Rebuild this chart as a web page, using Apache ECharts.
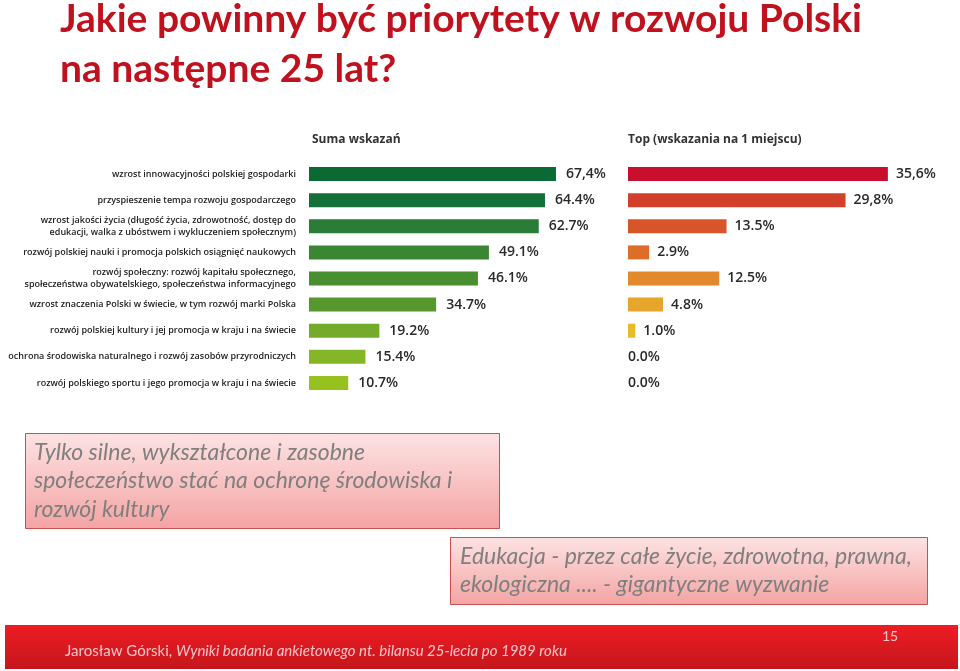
<!DOCTYPE html>
<html><head><meta charset="utf-8">
<script src="https://cdn.jsdelivr.net/npm/echarts@6/dist/echarts.min.js"></script>
<style>html,body{margin:0;padding:0;background:#fff;}#c{width:960px;height:671px;}</style>
</head><body><div id="c"></div>
<script>
var categories = [
  "wzrost innowacyjności polskiej gospodarki",
  "przyspieszenie tempa rozwoju gospodarczego",
  "wzrost jakości życia (długość życia, zdrowotność, dostęp do\nedukacji, walka z ubóstwem i wykluczeniem społecznym)",
  "rozwój polskiej nauki i promocja polskich osiągnięć naukowych",
  "rozwój społeczny: rozwój kapitału społecznego,\nspołeczeństwa obywatelskiego, społeczeństwa informacyjnego",
  "wzrost znaczenia Polski w świecie, w tym rozwój marki Polska",
  "rozwój polskiej kultury i jej promocja w kraju i na świecie",
  "ochrona środowiska naturalnego i rozwój zasobów przyrodniczych",
  "rozwój polskiego sportu i jego promocja w kraju i na świecie"
];
var sumaValues = [67.4, 64.4, 62.7, 49.1, 46.1, 34.7, 19.2, 15.4, 10.7];
var sumaLabels = ["67,4%", "64.4%", "62.7%", "49.1%", "46.1%", "34.7%", "19.2%", "15.4%", "10.7%"];
var topValues = [35.6, 29.8, 13.5, 2.9, 12.5, 4.8, 1.0, 0.0, 0.0];
var topLabels = ["35,6%", "29,8%", "13.5%", "2.9%", "12.5%", "4.8%", "1.0%", "0.0%", "0.0%"];
var greenColors = ["#0b6a34", "#137039", "#2a7c36", "#3a8733", "#478f31", "#57982e", "#74ab2a", "#84b627", "#97c11f"];
var redColors = ["#c8102e", "#d0402b", "#d8552a", "#dc6e2a", "#e28a2b", "#e6a52b", "#e8bb2a", "#e8bb2a", "#e8bb2a"];

var chart = echarts.init(document.getElementById('c'), null, {renderer: 'canvas'});
var labelFont = {fontFamily: 'Open Sans', fontWeight: 600, fontSize: 14, color: '#2a2a2a'};

var greenData = sumaValues.map(function (v, i) {
  return {value: v, itemStyle: {color: greenColors[i]},
    label: {show: true, position: 'right', distance: 10, formatter: sumaLabels[i]}};
});
var redData = topValues.map(function (v, i) {
  return {value: v, itemStyle: {color: redColors[i]},
    label: {show: true, position: 'right', distance: v === 0 ? 0 : 8, formatter: topLabels[i]}};
});

chart.setOption({
  animation: false,
  title: {
    text: 'Jakie powinny być priorytety w rozwoju Polski\nna następne 25 lat?',
    left: 60, top: -6, padding: 0,
    textStyle: {fontFamily: 'Lato', fontWeight: 'bold', fontSize: 39, color: '#c0121e', lineHeight: 50}
  },
  grid: [
    {left: 309, top: 161, width: 256.5, height: 235},
    {left: 628, top: 161, width: 292, height: 235}
  ],
  xAxis: [
    {gridIndex: 0, type: 'value', min: 0, max: 70, show: false},
    {gridIndex: 1, type: 'value', min: 0, max: 40, show: false}
  ],
  yAxis: [
    {gridIndex: 0, type: 'category', data: categories, inverse: true,
      axisLine: {show: false}, axisTick: {show: false},
      axisLabel: {margin: 13, fontFamily: 'Open Sans', fontSize: 9, fontWeight: 600, color: '#222', lineHeight: 12, align: 'right'}},
    {gridIndex: 1, type: 'category', data: categories, inverse: true, show: false}
  ],
  series: [
    {type: 'bar', xAxisIndex: 0, yAxisIndex: 0, data: greenData, barWidth: 14, label: labelFont},
    {type: 'bar', xAxisIndex: 1, yAxisIndex: 1, data: redData, barWidth: 14, label: labelFont}
  ],
  graphic: [
    {type: 'text', left: 312, top: 134, style: {text: 'Suma wskazań', font: 'bold 12px "Open Sans"', fill: '#333'}},
    {type: 'text', left: 628, top: 134, style: {text: 'Top (wskazania na 1 miejscu)', font: 'bold 12px "Open Sans"', fill: '#333'}},
    {type: 'rect', shape: {x: 25.5, y: 433.5, width: 474, height: 95},
      style: {fill: new echarts.graphic.LinearGradient(0, 0, 0, 1, [{offset: 0, color: '#fde3e3'}, {offset: 1, color: '#f4a3a3'}]), stroke: '#c9504d', lineWidth: 1}},
    {type: 'text', left: 34, top: 438, style: {text: 'Tylko silne, wykształcone i zasobne\nspołeczeństwo stać na ochronę środowiska i\nrozwój kultury', font: 'italic 23px Lato', fill: '#7f7f7f', lineHeight: 28.5}},
    {type: 'rect', shape: {x: 450.5, y: 537.5, width: 477, height: 67},
      style: {fill: new echarts.graphic.LinearGradient(0, 0, 0, 1, [{offset: 0, color: '#fde3e3'}, {offset: 1, color: '#f4a3a3'}]), stroke: '#c9504d', lineWidth: 1}},
    {type: 'text', left: 460, top: 543, style: {text: 'Edukacja - przez całe życie, zdrowotna, prawna,\nekologiczna .... - gigantyczne wyzwanie', font: 'italic 23px Lato', fill: '#7f7f7f', lineHeight: 28}},
    {type: 'rect', shape: {x: 5, y: 625, width: 953, height: 44},
      style: {fill: new echarts.graphic.LinearGradient(0, 0, 0, 1, [{offset: 0, color: '#ee1c24'}, {offset: 1, color: '#c4161c'}])}},
    {type: 'text', left: 65, top: 644, style: {rich: {a: {font: '15px Lato', fill: '#f6c4c4'}, b: {font: 'italic 15px Lato', fill: '#f6c4c4'}}, text: '{a|Jarosław Górski, }{b|Wyniki badania ankietowego nt. bilansu 25-lecia po 1989 roku}'}},
    {type: 'text', left: 882, top: 629, style: {text: '15', font: '14px Lato', fill: '#f6c4c4'}}
  ]
});
</script></body></html>
